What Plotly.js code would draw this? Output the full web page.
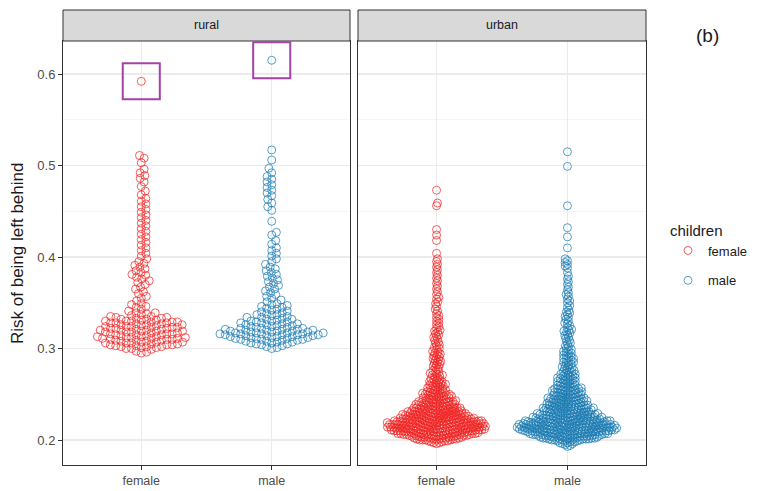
<!DOCTYPE html>
<html>
<head>
<meta charset="utf-8">
<script src="https://cdn.plot.ly/plotly-3.0.1.min.js"></script>
<style>html,body{margin:0;padding:0;background:#fff;}#chart{width:767px;height:491px;}</style>
</head>
<body>
<div id="chart"></div>
<script>
// ---------------- data (values in thousandths) ----------------
const categories = ['female', 'male'];
const facets = ['rural', 'urban'];
const legendTitle = 'children';
const yTickVals = [0.2, 0.3, 0.4, 0.5, 0.6];
const yTickText = ['0.2', '0.3', '0.4', '0.5', '0.6'];
const yMinorVals = [0.25, 0.35, 0.45, 0.55];

const ruralFemale = [295,296,297,299,
300,300,301,301,302,302,302,303,303,304,304,304,
305,305,306,306,306,307,307,307,308,308,309,309,309,
310,310,310,311,311,311,312,312,312,313,313,313,314,314,
315,315,315,316,316,316,317,317,318,318,318,319,319,319,
320,320,320,321,321,322,322,322,323,323,323,324,324,324,
325,325,326,326,326,327,327,328,328,328,329,329,329,
330,330,330,331,331,332,332,333,333,334,334,
335,335,336,337,338,339,339,
341,343,345,346,348,349,
352,355,357,360,362,365,367,370,372,374,376,378,380,381,383,385,387,389,391,393,395,398,
401,404,407,410,413,416,419,422,425,428,431,434,437,440,443,446,449,
452,455,458,461,464,468,472,477,482,486,489,492,496,503,508,511,
592];

const ruralMale = [300,301,302,303,304,
305,305,306,306,307,307,308,308,309,309,
310,310,310,311,311,311,312,312,312,313,313,313,314,314,314,
315,315,315,315,316,316,316,316,317,317,317,317,318,318,318,319,319,319,
320,320,320,321,321,321,322,322,322,323,323,324,324,
325,325,326,326,327,327,328,328,329,329,
330,330,331,332,332,333,334,334,
335,336,337,337,338,339,
340,341,342,343,344,345,346,347,348,349,
351,353,355,357,359,
361,363,365,367,369,371,373,375,377,379,381,383,385,387,389,392,395,398,
401,404,407,410,414,418,424,427,
439,
451,455,459,463,467,470,473,476,479,482,485,488,492,497,506,517,
615];

const urbanFemale = [196,197,197,198,198,199,199,199,
200,200,200,200,200,201,201,201,201,201,202,202,202,202,202,203,203,203,203,203,204,204,204,204,204,
205,205,205,205,205,205,205,205,206,206,206,206,206,206,206,206,
207,207,207,207,207,207,207,207,208,208,208,208,208,208,208,208,
209,209,209,209,209,209,209,209,
210,210,210,210,210,210,210,210,210,210,211,211,211,211,211,211,211,211,211,211,
212,212,212,212,212,212,212,212,212,212,213,213,213,213,213,213,213,213,213,213,
214,214,214,214,214,214,214,214,214,214,215,215,215,215,215,215,215,215,215,215,
216,216,216,216,216,216,216,216,216,216,217,217,217,217,217,217,217,217,217,217,
218,218,218,218,218,218,218,218,218,218,219,219,219,219,219,219,219,219,219,219,
220,220,220,220,220,220,220,220,220,221,221,221,221,221,221,221,221,221,
222,222,222,222,222,222,222,222,223,223,223,223,223,223,223,223,
224,224,224,224,224,224,224,224,
225,225,225,225,225,225,225,226,226,226,226,226,226,226,227,227,227,227,227,227,227,
228,228,228,228,228,228,228,229,229,229,229,229,229,229,
230,230,230,230,230,230,231,231,231,231,231,231,232,232,232,232,232,232,233,233,233,233,233,234,234,234,234,234,
235,235,235,235,235,236,236,236,236,236,237,237,237,237,238,238,238,238,239,239,239,239,
240,240,240,240,241,241,241,241,242,242,242,242,243,243,243,244,244,244,
245,245,245,246,246,246,247,247,247,248,248,248,249,249,249,
250,250,250,251,251,251,252,252,253,253,254,254,
255,255,256,256,257,257,258,258,259,259,
260,260,261,261,262,262,263,264,264,265,266,266,267,268,269,
270,271,271,272,273,274,275,276,277,279,
280,281,282,283,284,285,286,287,288,289,
290,291,292,293,294,295,296,297,299,
300,301,303,304,306,307,309,310,312,313,315,316,318,319,
320,322,324,326,328,330,332,334,336,338,
341,343,346,349,351,354,356,359,
362,365,368,371,374,377,
380,383,386,389,392,395,398,
404,418,424,430,456,459,473];

const urbanMale = [193,194,195,196,196,197,197,198,198,199,199,199,
200,200,200,200,200,201,201,201,201,201,201,202,202,202,202,202,202,
203,203,203,203,203,203,204,204,204,204,204,204,
205,205,205,205,205,205,205,205,206,206,206,206,206,206,206,206,
207,207,207,207,207,207,207,207,208,208,208,208,208,208,208,208,
209,209,209,209,209,209,209,209,
210,210,210,210,210,210,210,210,210,210,211,211,211,211,211,211,211,211,211,211,
212,212,212,212,212,212,212,212,212,212,213,213,213,213,213,213,213,213,213,213,
214,214,214,214,214,214,214,214,214,214,215,215,215,215,215,215,215,215,215,215,
216,216,216,216,216,216,216,216,216,216,217,217,217,217,217,217,217,217,217,
218,218,218,218,218,218,218,218,218,219,219,219,219,219,219,219,219,219,
220,220,220,220,220,220,220,220,221,221,221,221,221,221,221,221,
222,222,222,222,222,222,222,223,223,223,223,223,223,223,224,224,224,224,224,224,224,
225,225,225,225,225,225,226,226,226,226,226,226,227,227,227,227,227,227,
228,228,228,228,228,228,229,229,229,229,229,229,
230,230,230,230,230,231,231,231,231,231,232,232,232,232,232,233,233,233,233,233,234,234,234,234,234,
235,235,235,235,235,236,236,236,236,236,237,237,237,237,238,238,238,238,239,239,239,239,
240,240,240,240,241,241,241,241,242,242,242,242,243,243,243,243,244,244,244,244,
245,245,245,245,246,246,246,246,247,247,247,248,248,248,249,249,249,
250,250,250,251,251,251,252,252,252,253,253,253,254,254,254,
255,255,255,256,256,256,257,257,257,258,258,259,259,
260,260,261,261,262,262,263,263,264,264,265,265,266,266,267,267,268,268,269,269,
270,270,271,272,272,273,274,274,275,276,276,277,278,279,279,
280,281,282,283,284,285,285,286,287,288,289,289,
290,291,292,293,294,295,296,297,298,299,
300,302,303,305,306,308,309,311,312,314,315,317,318,319,
320,321,323,325,327,328,330,332,334,335,337,339,
340,342,345,347,350,352,354,357,359,
361,364,367,370,373,376,379,383,388,
390,392,394,396,398,410,422,432,456,499,515];

const groups = [
  {facet: 'rural', cat: 0, vals: ruralFemale},
  {facet: 'rural', cat: 1, vals: ruralMale},
  {facet: 'urban', cat: 0, vals: urbanFemale},
  {facet: 'urban', cat: 1, vals: urbanMale}
];

// ---------------- layout geometry ----------------
const W = 767, H = 491;
const panelTop = 41, panelBot = 465, stripTop = 10;
const panels = {rural: [63, 350], urban: [358, 646]};
const yRange = [0.17268, 0.63607];
const xRange = [0.4, 2.6];
const PXY = (panelBot - panelTop) / (yRange[1] - yRange[0]);
const swarmGap = {rural: 5.4, urban: 2.9};
const colors = {female: 'rgba(240,35,35,0.72)', male: 'rgba(25,122,178,0.72)'};
const fontFam = 'Liberation Sans, Arial, Helvetica, sans-serif';

function swarm(vals, d) {
  const order = vals.map((v, i) => i).sort((a, b) => vals[a] - vals[b]);
  const out = new Array(vals.length);
  const placed = [];
  order.forEach((i, k) => {
    const y = vals[i] / 1000 * PXY;
    const near = placed.filter(p => y - p.y < d);
    const cands = [0];
    near.forEach(p => {
      const dy = y - p.y;
      const dx = Math.sqrt(Math.max(0, d * d - dy * dy));
      cands.push(p.x + dx, p.x - dx);
    });
    const sgn = (k % 2) ? 1 : -1;
    cands.sort((a, b) => (Math.abs(a) - Math.abs(b)) || (b * sgn - a * sgn));
    let best = 0;
    for (const c of cands) {
      if (near.every(p => { const dx = c - p.x, dy = y - p.y; return dx * dx + dy * dy >= d * d - 1e-6; })) { best = c; break; }
    }
    placed.push({x: best, y: y});
    out[i] = best;
  });
  return out;
}

const traces = groups.map(g => {
  const pr = panels[g.facet];
  const PXX = (pr[1] - pr[0]) / (xRange[1] - xRange[0]);
  const offs = swarm(g.vals, swarmGap[g.facet]);
  const catName = categories[g.cat];
  const ax = g.facet === 'rural' ? '' : '2';
  return {
    type: 'scatter', mode: 'markers',
    x: g.vals.map((v, i) => (g.cat + 1) + offs[i] / PXX),
    y: g.vals.map(v => v / 1000),
    xaxis: 'x' + ax, yaxis: 'y' + ax,
    name: catName, legendgroup: catName,
    showlegend: g.facet === 'rural',
    marker: {symbol: 'circle-open', size: 8, color: colors[catName], line: {width: 1, color: colors[catName]}},
    hoverinfo: 'skip'
  };
});

const px2fx = x => x / W;
const px2fy = y => (H - y) / H;

function xAxis(facet, anchor) {
  const pr = panels[facet];
  return {
    domain: [px2fx(pr[0]), px2fx(pr[1])], anchor: anchor, range: xRange,
    tickmode: 'array', tickvals: [1, 2], ticktext: categories,
    ticks: 'outside', ticklen: 4, tickcolor: '#333', tickwidth: 1,
    tickfont: {size: 12.5, color: '#4d4d4d', family: fontFam},
    showgrid: true, gridcolor: '#ebebeb', gridwidth: 1.1, zeroline: false,
    showline: true, mirror: true, linecolor: '#333', linewidth: 1, fixedrange: true
  };
}
function yAxis(anchor, labels) {
  return {
    domain: [px2fy(panelBot), px2fy(panelTop)], anchor: anchor, range: yRange,
    tickmode: 'array', tickvals: yTickVals, ticktext: yTickText,
    showticklabels: labels, ticks: labels ? 'outside' : '', ticklen: 4, tickcolor: '#333',
    tickfont: {size: 13, color: '#4d4d4d', family: fontFam},
    showgrid: true, gridcolor: '#ebebeb', gridwidth: 1.1, zeroline: false,
    minor: {tickmode: 'array', tickvals: yMinorVals, showgrid: true, gridcolor: '#f4f4f4', gridwidth: 0.8, ticks: ''},
    showline: true, mirror: true, linecolor: '#333', linewidth: 1, fixedrange: true
  };
}

const shapes = [];
const annotations = [];
facets.forEach(f => {
  const pr = panels[f];
  shapes.push({type: 'rect', xref: 'paper', yref: 'paper',
    x0: px2fx(pr[0]), x1: px2fx(pr[1]), y0: px2fy(panelTop), y1: px2fy(stripTop),
    fillcolor: '#d9d9d9', line: {color: '#333', width: 1}, layer: 'above'});
  annotations.push({xref: 'paper', yref: 'paper', x: px2fx((pr[0] + pr[1]) / 2), y: px2fy((stripTop + panelTop) / 2),
    text: f, showarrow: false, font: {size: 12.5, color: '#1a1a1a', family: fontFam}, xanchor: 'center', yanchor: 'middle'});
});
// highlight boxes around the highest rural value of each group
[ruralFemale, ruralMale].forEach((arr, k) => {
  const top = Math.max(...arr) / 1000;
  shapes.push({type: 'rect', xref: 'x', yref: 'y', x0: k + 1 - 0.142, x1: k + 1 + 0.142,
    y0: top - 0.0197, y1: top + 0.0197, line: {color: '#a442a8', width: 2}, fillcolor: 'rgba(0,0,0,0)'});
});
annotations.push({xref: 'paper', yref: 'paper', x: px2fx(17), y: px2fy(254), text: 'Risk of being left behind',
  textangle: -90, showarrow: false, font: {size: 17, color: '#1a1a1a', family: fontFam}, xanchor: 'center', yanchor: 'middle'});
annotations.push({xref: 'paper', yref: 'paper', x: px2fx(707), y: px2fy(35), text: '(b)',
  showarrow: false, font: {size: 19, color: '#1a1a1a', family: fontFam}, xanchor: 'center', yanchor: 'middle'});

const layout = {
  width: W, height: H, margin: {l: 0, r: 0, t: 0, b: 0},
  paper_bgcolor: '#fff', plot_bgcolor: '#fff',
  font: {family: fontFam},
  xaxis: xAxis('rural', 'y'), yaxis: yAxis('x', true),
  xaxis2: xAxis('urban', 'y2'), yaxis2: Object.assign(yAxis('x2', false), {matches: 'y'}),
  shapes: shapes, annotations: annotations,
  showlegend: true,
  legend: {x: px2fx(668), y: px2fy(216), xanchor: 'left', yanchor: 'top',
    title: {text: legendTitle, font: {size: 15, color: '#1a1a1a', family: fontFam}},
    font: {size: 13, color: '#1a1a1a', family: fontFam}, bgcolor: 'rgba(0,0,0,0)', itemclick: false}
};

Plotly.newPlot('chart', traces, layout, {staticPlot: true, displayModeBar: false});
</script>
</body>
</html>
